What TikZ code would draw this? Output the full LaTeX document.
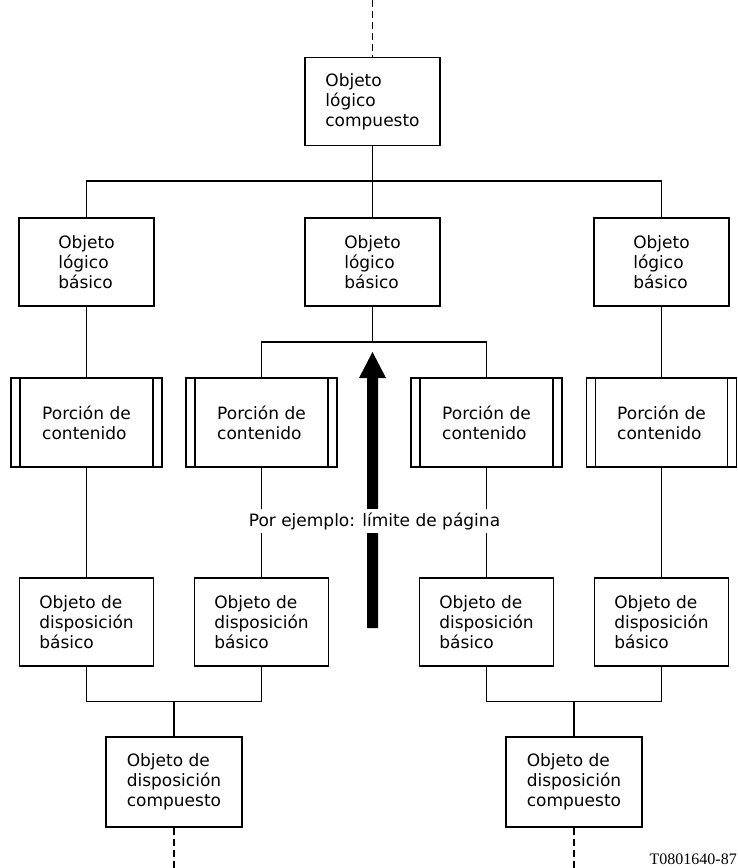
\documentclass[tikz,border=0pt]{standalone}
\usepackage{fontspec}
\setmainfont{DejaVu Sans}
\newfontfamily\codefont{Liberation Serif}
\begin{document}
\begin{tikzpicture}[x=1pt,y=-1pt,
  box/.style={draw, line width=1.6pt, rectangle, inner sep=0pt, align=left,
    font=\fontsize{17}{20}\selectfont},
  logbox/.style={box, minimum width=135pt, minimum height=88pt},
  laybox/.style={box, minimum width=134pt, minimum height=88pt},
  compbox/.style={box, minimum width=136pt, minimum height=90pt},
  portion/.style={box, minimum width=151pt, minimum height=89pt,
    path picture={
      \draw[line width=1.3pt]
        ([xshift=9pt]path picture bounding box.north west) --
        ([xshift=9pt]path picture bounding box.south west);
      \draw[line width=1.3pt]
        ([xshift=-9pt]path picture bounding box.north east) --
        ([xshift=-9pt]path picture bounding box.south east);
    }},
  wire/.style={line width=1.3pt},
  dashwire/.style={line width=1.3pt, dash pattern=on 7pt off 4pt}
]
\useasboundingbox (0,0) rectangle (737,868);

% logical structure
\node[logbox] (top) at (372.5,101.5) {Objeto\\lógico\\compuesto};
\node[logbox] (la) at (86.5,262) {Objeto\\lógico\\básico};
\node[logbox] (lb) at (372.5,262) {Objeto\\lógico\\básico};
\node[logbox] (lc) at (661.5,262) {Objeto\\lógico\\básico};

% content portions
\node[portion] (ca) at (86.5,422.5) {Porción de\\contenido};
\node[portion] (cb) at (261.5,422.5) {Porción de\\contenido};
\node[portion] (cc) at (486.5,422.5) {Porción de\\contenido};
\node[portion, minimum width=150pt] (cd) at (661.5,422.5) {Porción de\\contenido};

% layout structure
\node[laybox] (da) at (86.5,622) {Objeto de\\disposición\\básico};
\node[laybox] (db) at (261.5,622) {Objeto de\\disposición\\básico};
\node[laybox] (dc) at (486.5,622) {Objeto de\\disposición\\básico};
\node[laybox] (dd) at (661.5,622) {Objeto de\\disposición\\básico};
\node[compbox] (pa) at (174,782) {Objeto de\\disposición\\compuesto};
\node[compbox] (pb) at (574,782) {Objeto de\\disposición\\compuesto};

% bus levels
\coordinate (busT) at (0,181);
\coordinate (busM) at (0,342);
\coordinate (busB) at (0,701.5);

% logical tree connectors
\draw[wire] (top) -- (lb);
\draw[wire] (la.north) |- (lc.north |- busT) -- (lc.north);
\draw[wire] (lb.south) -- (lb.south |- busM);
\draw[wire] (cb.north) |- (cc.north |- busM) -- (cc.north);
\draw[wire] (la) -- (ca);
\draw[wire] (lc) -- (cd);

% content to layout connectors
\draw[wire] (ca) -- (da);
\draw[wire] (cb) -- (db);
\draw[wire] (cc) -- (dc);
\draw[wire] (cd) -- (dd);

% layout tree connectors
\draw[wire] (da.south) |- (db.south |- busB) -- (db.south);
\draw[wire] (pa.north) -- (pa.north |- busB);
\draw[wire] (dc.south) |- (dd.south |- busB) -- (dd.south);
\draw[wire] (pb.north) -- (pb.north |- busB);

% continuation above and below
\coordinate (topend) at (372.5,0);
\coordinate (paend) at (174,868);
\coordinate (pbend) at (574,868);
\draw[dashwire] (topend) -- (top.north);
\draw[dashwire] (pa.south) -- (paend);
\draw[dashwire] (pb.south) -- (pbend);

% page boundary arrow
\fill (367,628) -- (367,378) -- (359,378) -- (372.5,352) -- (386,378)
  -- (378,378) -- (378,628) -- cycle;
\node[fill=white, inner xsep=2pt, inner ysep=3pt,
  font=\fontsize{17}{20}\selectfont] (note) at (374.5,521)
  {Por ejemplo: límite de página};

% drawing reference
\node[anchor=base east, inner sep=0pt, font=\codefont\fontsize{16}{16}\selectfont]
  (ref) at (737,864) {T0801640-87};
\end{tikzpicture}
\end{document}
